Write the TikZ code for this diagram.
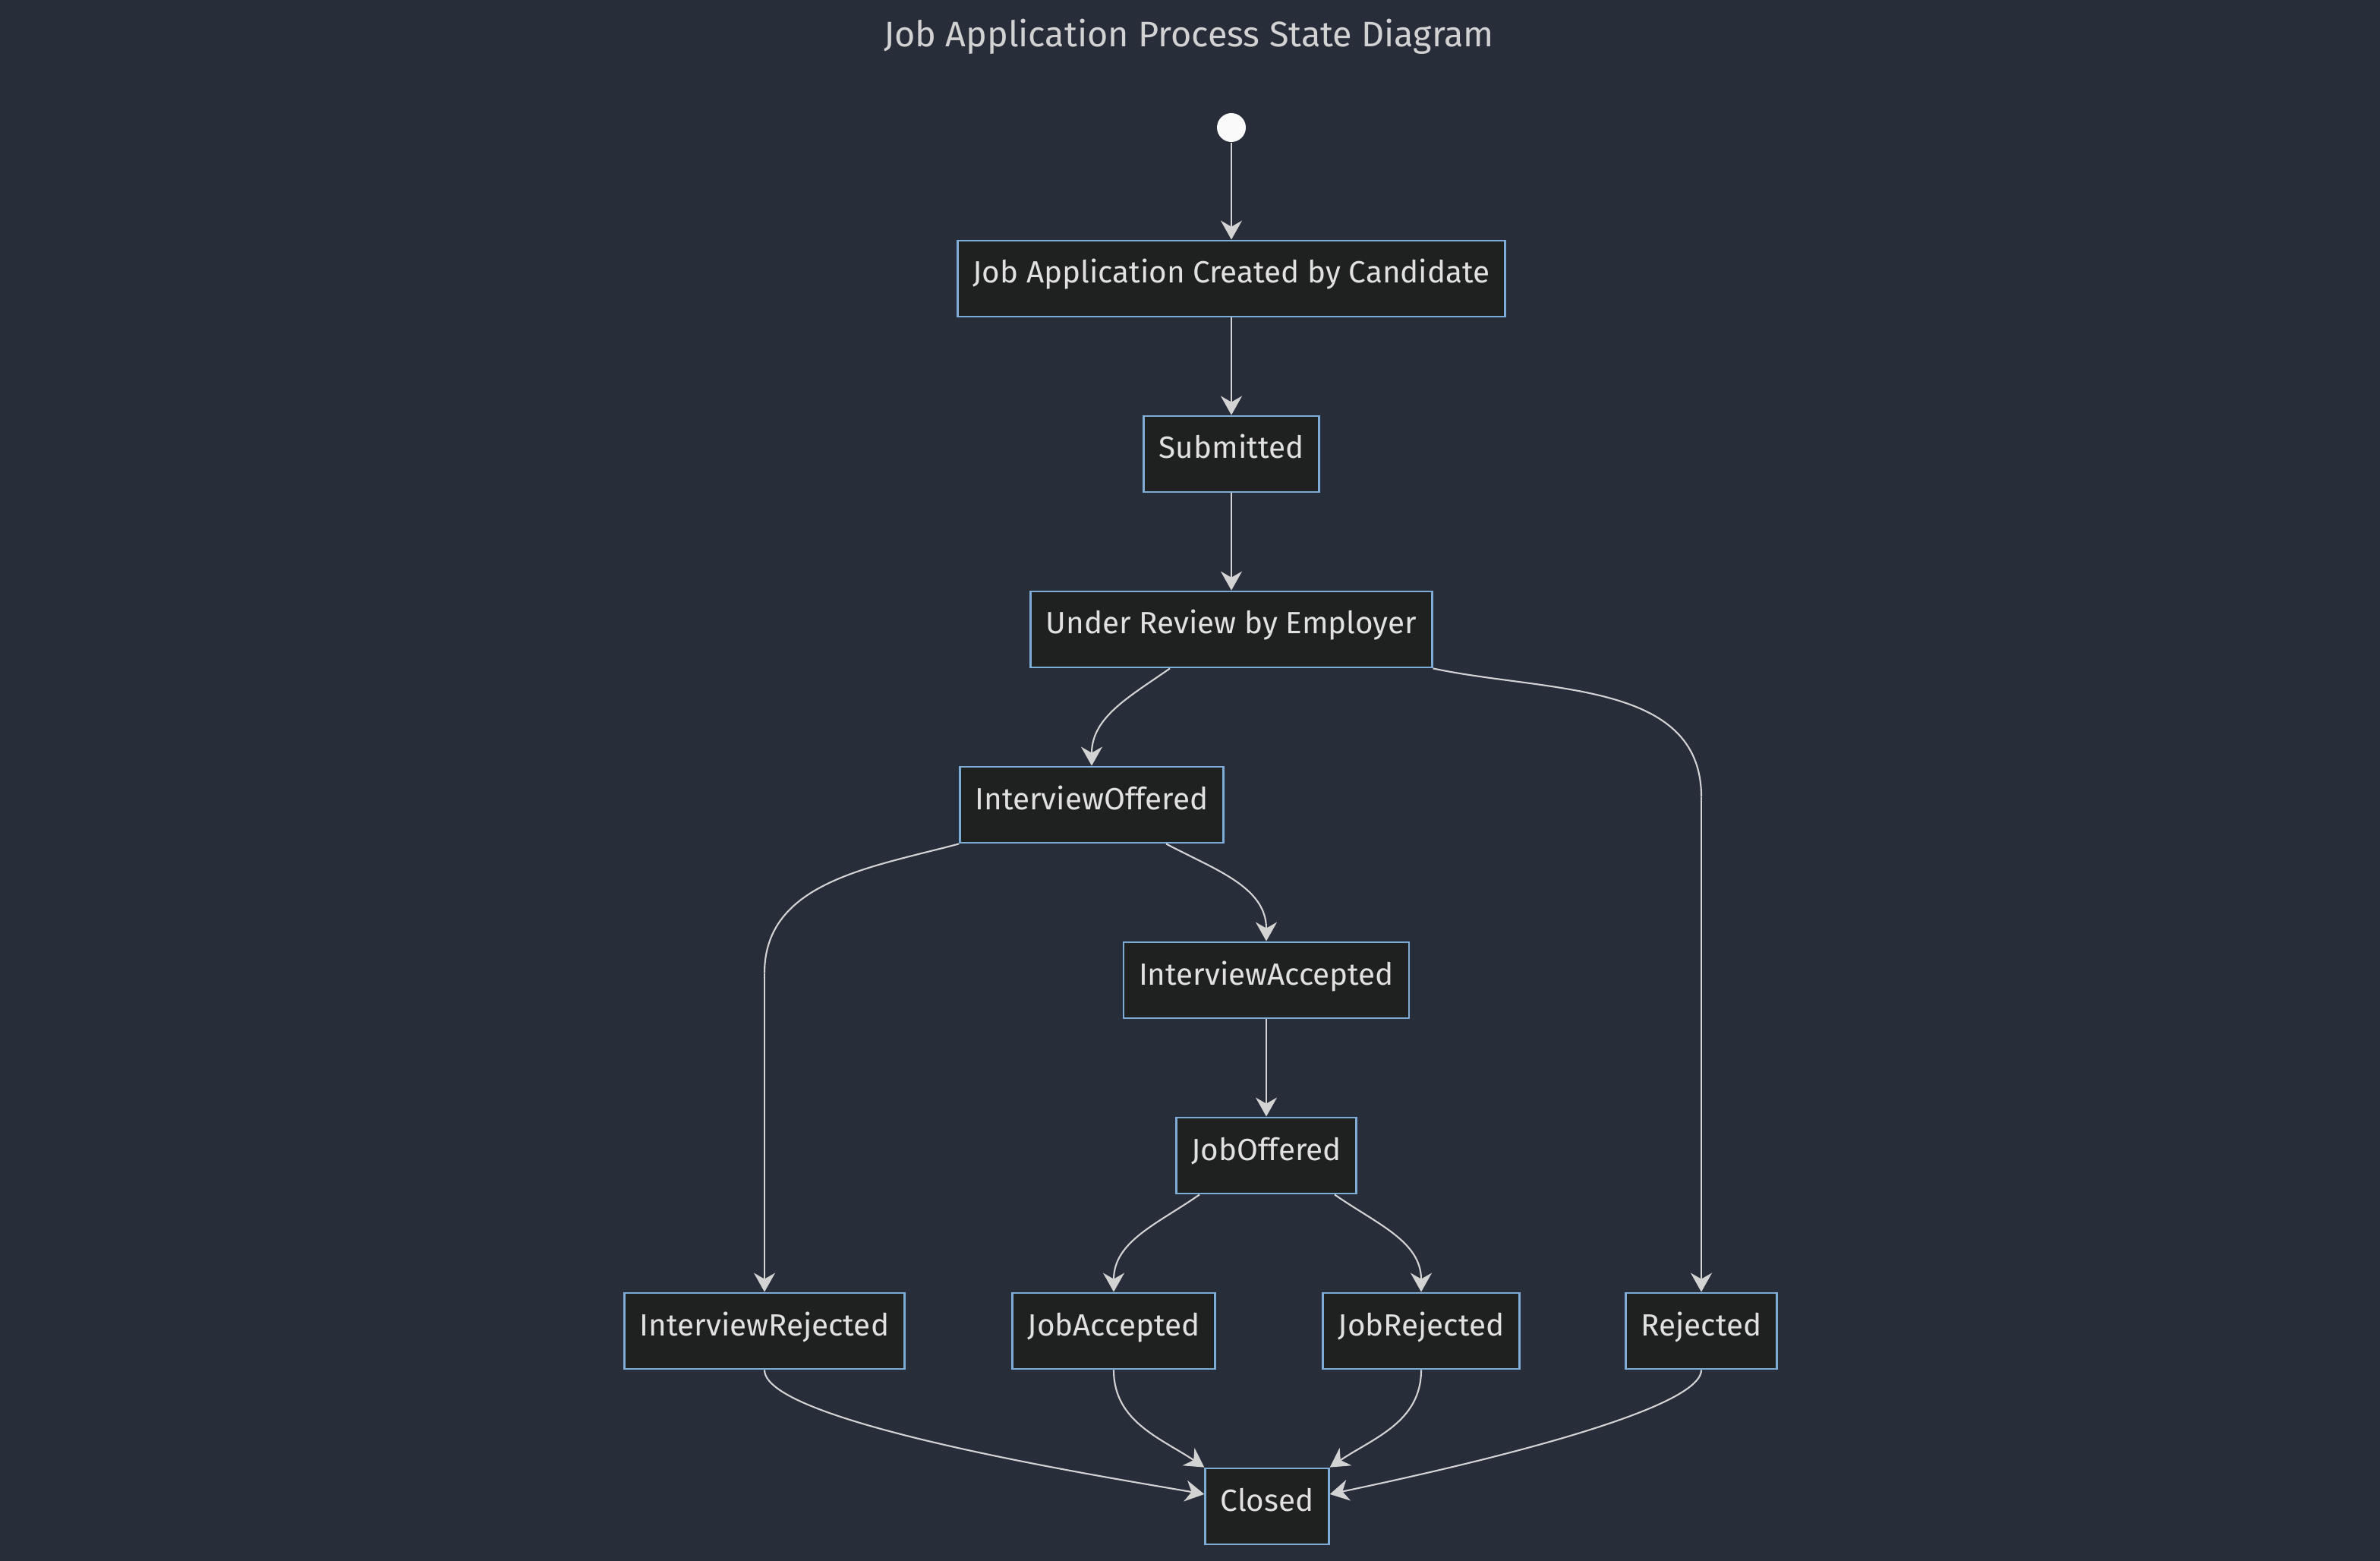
\documentclass[tikz,border=0pt]{standalone}
\usepackage{fontspec}
\setmainfont{Fira Sans}
\usetikzlibrary{arrows.meta,positioning}
\definecolor{bgcol}{RGB}{40,45,58}
\definecolor{boxfill}{RGB}{31,32,32}
\definecolor{boxline}{RGB}{125,172,214}
\definecolor{linecol}{RGB}{211,211,211}
\definecolor{textcol}{RGB}{226,225,225}
\definecolor{titlecol}{RGB}{210,210,210}
\begin{document}
\begin{tikzpicture}[
    node distance=2.31cm,
    state/.style={draw=boxline, fill=boxfill, line width=0.8pt, text=textcol,
        font=\fontsize{11.5}{14}\selectfont, minimum height=1cm, inner xsep=0.2cm,
        text height=0.3cm, text depth=0.18cm},
    startdot/.style={circle, fill=white!96!gray, inner sep=0pt, minimum size=0.38cm},
    link/.style={draw=linecol, line width=0.6pt,
        -{Stealth[length=0.25cm, width=0.28cm, inset=0.08cm]}}
]
    \fill[bgcol] (0,0) rectangle (31.35,-20.56);
    \useasboundingbox (0,0) rectangle (31.35,-20.56);
    \node[text=titlecol, font=\fontsize{13.3}{16}\selectfont] (title) at (15.66,-0.48) {Job Application Process State Diagram};
    \node[startdot] (s) at (16.22,-1.68) {};
    \node[state, below of=s, yshift=0.32cm] (app) {Job Application Created by Candidate};
    \node[state, below of=app] (sub) {Submitted};
    \node[state, below of=sub] (ur) {Under Review by Employer};
    \node[state, below of=ur, xshift=-1.84cm] (io) {InterviewOffered};
    \node[state, below of=io, xshift=2.30cm] (ia) {InterviewAccepted};
    \node[state, below of=ia] (jo) {JobOffered};
    \node[state, below of=jo, xshift=-2.01cm] (ja) {JobAccepted};
    \node[state, below of=jo, xshift=2.04cm] (jr) {JobRejected};
    \node[state, below of=jo, xshift=-6.61cm] (ir) {InterviewRejected};
    \node[state, below of=jo, xshift=5.73cm] (rj) {Rejected};
    \node[state, below of=ja, xshift=2.02cm] (cl) {Closed};
    \coordinate (rjbend) at ([yshift=6.52cm]rj.north);
    \coordinate (irbend) at ([yshift=4.2cm]ir.north);
    \path[every edge/.append style={link}]
    (s) edge (app)
    (app) edge (sub)
    (sub) edge (ur)
    ([xshift=-0.81cm]ur.south) edge[out=-145, in=90] (io.north)
    (ur.south east) edge[-, out=-12, in=90] (rjbend)
    (rjbend) edge (rj.north)
    (io.south west) edge[-, out=-165, in=90] (irbend)
    (irbend) edge (ir.north)
    ([xshift=0.98cm]io.south) edge[out=-28, in=90] (ia.north)
    (ia) edge (jo)
    ([xshift=-0.88cm]jo.south) edge[out=-145, in=90] (ja.north)
    ([xshift=0.90cm]jo.south) edge[out=-35, in=90] (jr.north)
    (ir.south) edge[out=-90, in=170, out looseness=0.3, in looseness=0.5] ([yshift=0.16cm]cl.west)
    (ja.south) edge[out=-90, in=146] (cl.north west)
    (jr.south) edge[out=-90, in=34] (cl.north east)
    (rj.south) edge[out=-90, in=12, out looseness=0.3, in looseness=0.5] ([yshift=0.16cm]cl.east);
\end{tikzpicture}
\end{document}
